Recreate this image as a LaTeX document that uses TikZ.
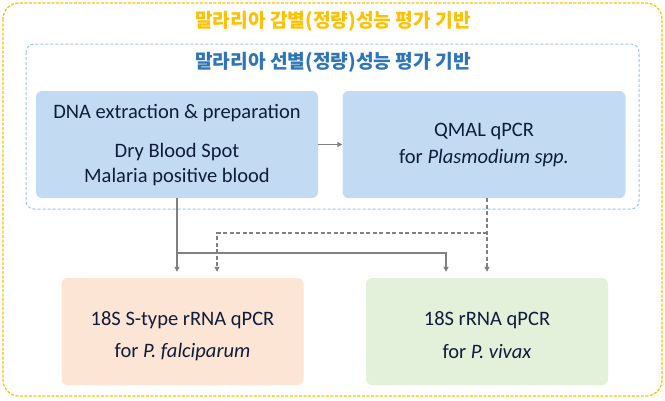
\documentclass[tikz,border=0pt]{standalone}
\usepackage{fontspec}
\setmainfont{Carlito}
\newfontfamily\kr{Noto Sans CJK KR}
\usetikzlibrary{arrows.meta}
\definecolor{gold}{HTML}{FFC000}
\definecolor{ttlblue}{HTML}{2E75B6}
\definecolor{dashblue}{HTML}{9DC3E6}
\definecolor{boxblue}{HTML}{C3DBF2}
\definecolor{boxorange}{HTML}{FCE5D4}
\definecolor{boxgreen}{HTML}{E4F1DA}
\definecolor{txt}{HTML}{0F1C3A}
\definecolor{lines}{HTML}{808080}
\tikzset{
  bodyfont/.style={font=\fontsize{20.5}{24}\selectfont},
  stepbox/.style={rounded corners=6pt, inner sep=0pt},
  lbl/.style={text=txt, bodyfont, inner sep=0pt},
  titlefont/.style={font=\kr\bfseries\fontsize{19.2}{21}\selectfont},
  arr/.style={draw=lines, line width=1.4pt, -{Triangle[length=5pt,width=5pt]}},
  darr/.style={arr, dash pattern=on 4pt off 2.5pt},
}
\begin{document}
\begin{tikzpicture}[x=1pt,y=-1pt]
\useasboundingbox (0,0) rectangle (665,400);
\draw[gold, line width=1.2pt, dash pattern=on 3pt off 1.5pt, rounded corners=16pt] (3,3) rectangle (662,396);
\node[text=gold, titlefont] (t1) at (333,21.5) {말라리아 감별(정량)성능 평가 기반};
\draw[dashblue, line width=1pt, dash pattern=on 3pt off 2pt, rounded corners=8pt] (26,44) rectangle (639,209);
\node[text=ttlblue, titlefont] (t2) at (333,62.5) {말라리아 선별(정량)성능 평가 기반};
\node[stepbox, fill=boxblue, minimum width=282pt, minimum height=107pt] (b1) at (177,144.5) {};
\node[lbl] (b1a) at (177,113) {DNA extraction \& preparation};
\node[lbl] (b1b) at (177,152) {Dry Blood Spot};
\node[lbl] (b1c) at (177,177) {Malaria positive blood};
\node[stepbox, fill=boxblue, minimum width=283pt, minimum height=107pt] (b2) at (484,144.5) {};
\node[lbl] (b2a) at (484,131) {QMAL qPCR};
\node[lbl] (b2b) at (484,158) {for \textit{Plasmodium spp.}};
\node[stepbox, fill=boxorange, minimum width=242pt, minimum height=107pt] (b3) at (182.5,331.5) {};
\node[lbl] (b3a) at (182.5,320.5) {18S S-type rRNA qPCR};
\node[lbl] (b3b) at (182.5,352) {for \textit{P. falciparum}};
\node[stepbox, fill=boxgreen, minimum width=242pt, minimum height=107pt] (b4) at (487,331.5) {};
\node[lbl] (b4a) at (487,320.5) {18S rRNA qPCR};
\node[lbl] (b4b) at (487,352) {for \textit{P. vivax}};
\draw[arr, line width=1pt] (b1.east) -- (b2.west);
\coordinate (s0) at (177,198);
\coordinate (j1) at (177,253);
\coordinate (k1) at (446,253);
\draw[arr, shorten >=6pt] (s0) -- (s0 |- b3.north);
\draw[arr, shorten >=6pt] (j1) -- (k1) -- (k1 |- b4.north);
\coordinate (d0) at (487,198);
\coordinate (d1) at (487,233);
\coordinate (d2) at (217,233);
\draw[darr, shorten >=6pt] (d0) -- (d0 |- b4.north);
\draw[darr, shorten >=6pt] (d1) -- (d2) -- (d2 |- b3.north);
\end{tikzpicture}
\end{document}
